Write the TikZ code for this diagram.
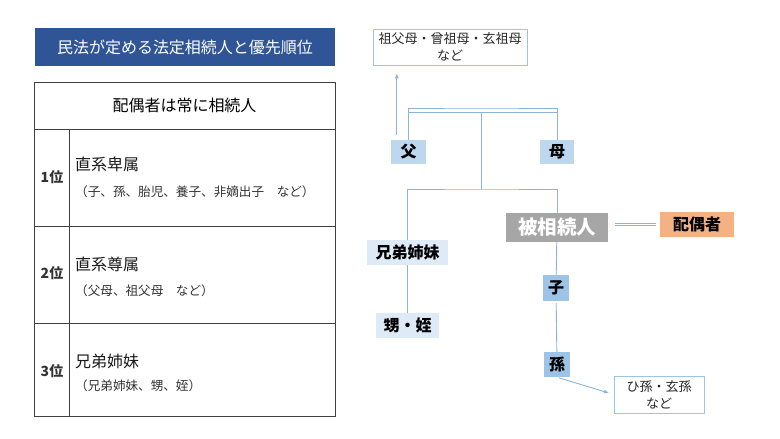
\documentclass[tikz,border=0pt]{standalone}
\usepackage{fontspec}
\setmainfont{Noto Sans CJK JP}
\usetikzlibrary{arrows.meta}
\definecolor{titleblue}{HTML}{2F5597}
\definecolor{linkblue}{HTML}{8DB3D8}
\definecolor{paleblue}{HTML}{DEEBF7}
\definecolor{midblue}{HTML}{BDD7EE}
\definecolor{deepblue}{HTML}{9DC3E6}
\definecolor{heirgray}{HTML}{A6A6A6}
\definecolor{spouseorange}{HTML}{F4B183}
\definecolor{tabline}{HTML}{404040}

\begin{document}
\begin{tikzpicture}[x=1pt, y=-1pt,
  tab/.style={draw=tabline, line width=0.8pt},
  link/.style={draw=linkblue, line width=0.9pt},
  kin/.style={inner sep=0pt, minimum height=25pt, text=black,
    font=\fontsize{16}{16}\selectfont\bfseries},
  note/.style={draw=deepblue, line width=0.6pt, inner sep=0pt, align=center,
    text=black!85, font=\fontsize{13}{17}\selectfont},
  rank/.style={inner sep=0pt, text=black!80, font=\fontsize{14}{14}\selectfont\bfseries},
  kind/.style={anchor=west, inner sep=0pt, text=black!90, font=\fontsize{16}{16}\selectfont},
  sub/.style={anchor=west, inner sep=0pt, text=black!80, font=\fontsize{12.6}{13}\selectfont}]
\useasboundingbox (0,0) rectangle (780,439);

\node[fill=titleblue, text=white, minimum width=300pt, minimum height=38pt, inner sep=0pt,
  font=\fontsize{16}{16}\selectfont] (title) at (185,47) {民法が定める法定相続人と優先順位};

\draw[tab] (34,82) rectangle (335,416);
\foreach \y in {129,226,323}
  \draw[tab] (34,\y) -- (335,\y);
\draw[tab] (69,129) -- (69,416);

\node[inner sep=0pt, font=\fontsize{16}{16}\selectfont] (always) at (184.5,105) {配偶者は常に相続人};
\node[rank] (r1) at (52,177) {1位};
\node[rank] (r2) at (52,273) {2位};
\node[rank] (r3) at (52,371) {3位};
\node[kind] (k1) at (75,164) {直系卑属};
\node[sub] (s1) at (75,192) {（子、孫、胎児、養子、非嫡出子　など）};
\node[kind] (k2) at (75,264) {直系尊属};
\node[sub] (s2) at (75,291) {（父母、祖父母　など）};
\node[kind] (k3) at (75,361) {兄弟姉妹};
\node[sub] (s3) at (75,386) {（兄弟姉妹、甥、姪）};

\node[note, minimum width=154pt, minimum height=36pt] (sofubo) at (450,47) {祖父母・曾祖母・玄祖母\\など};
\node[kin, fill=midblue, minimum width=35pt, minimum height=24pt] (fu) at (408.5,152) {父};
\node[kin, fill=midblue, minimum width=34pt, minimum height=24pt] (bo) at (557,152) {母};
\node[kin, fill=heirgray, text=white, minimum width=102pt, minimum height=29pt,
  font=\fontsize{19.5}{20}\selectfont\bfseries] (hiso) at (557,227.5) {被相続人};
\node[kin, fill=spouseorange, minimum width=74pt] (haigu) at (697,224.5) {配偶者};
\node[kin, fill=paleblue, minimum width=81pt] (kyodai) at (407.5,252.5) {兄弟姉妹};
\node[kin, fill=paleblue, minimum width=63pt] (oimei) at (407.5,325.5) {甥・姪};
\node[kin, fill=deepblue, minimum width=26pt, minimum height=26pt] (ko) at (556,288) {子};
\node[kin, fill=deepblue, minimum width=26pt] (mago) at (557,364.5) {孫};
\node[note, minimum width=90pt, minimum height=37pt] (himago) at (659,394.5) {ひ孫・玄孫\\など};

\coordinate (topbar) at (481,108);
\coordinate (midbar) at (481,112);
\coordinate (lowbar) at (481,189);

\draw[link] (fu.north) |- (topbar) -| (bo.north);
\draw[link] (fu.north |- midbar) -- (bo.north |- midbar);
\draw[link] (midbar) -- (lowbar);
\draw[link] (kyodai.north) |- (lowbar) -| (hiso.north);
\draw[link] (kyodai) -- (oimei);
\draw[link] (hiso) -- (ko);
\draw[link, shorten <=2pt] (ko) -- (mago);
\draw[link, double, double distance=1.6pt, shorten <=7pt, shorten >=4pt]
  (hiso.east |- haigu.west) -- (haigu.west);
\draw[link, -{Latex[length=5pt,width=4pt]}, shorten <=5pt, shorten >=8pt]
  ([xshift=6pt]fu.north west) -- ([xshift=6pt]fu.north west |- sofubo.south);
\draw[link, -{Latex[length=5pt,width=4pt]}, shorten <=2pt, shorten >=5pt]
  (mago.south) -- (himago.west);
\end{tikzpicture}
\end{document}
